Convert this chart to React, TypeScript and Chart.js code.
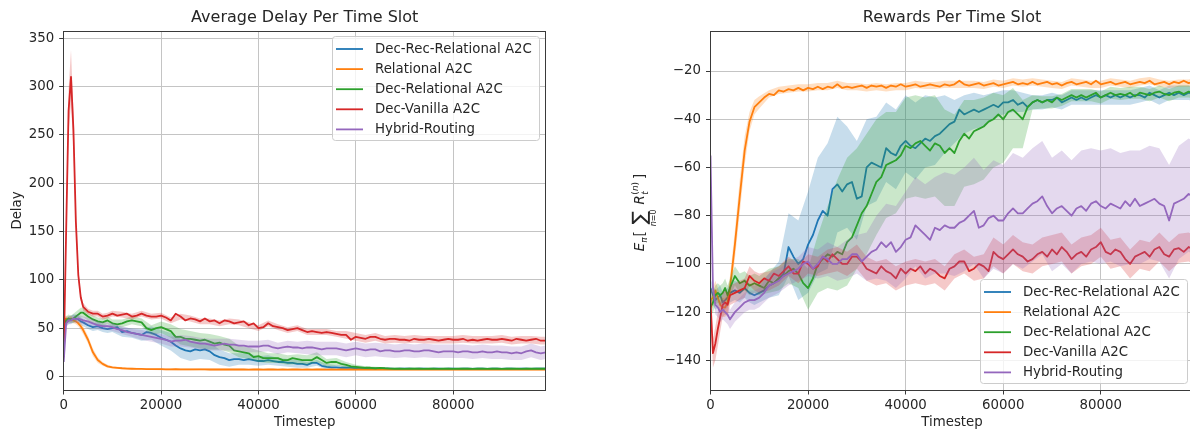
import React, { useEffect, useRef } from "react";
import { Chart, registerables } from "chart.js";

Chart.register(...registerables);

// ---------------- data ----------------
// timesteps of the mean curves
const LINE_TIMESTEPS = [
  0, 500, 1000, 1500, 2000, 2500, 3000, 3500, 4000,
  5000, 6000, 7000, 8000, 9000, 10000, 11000, 12000, 13000, 14000,
  15000, 16000, 17000, 18000, 19000, 20000, 21000, 22000, 23000, 24000,
  25000, 26000, 27000, 28000, 29000, 30000, 31000, 32000, 33000, 34000,
  35000, 36000, 37000, 38000, 39000, 40000, 41000, 42000, 43000, 44000,
  45000, 46000, 47000, 48000, 49000, 50000, 51000, 52000, 53000, 54000,
  55000, 56000, 57000, 58000, 59000, 60000, 61000, 62000, 63000, 64000,
  65000, 66000, 67000, 68000, 69000, 70000, 71000, 72000, 73000, 74000,
  75000, 76000, 77000, 78000, 79000, 80000, 81000, 82000, 83000, 84000,
  85000, 86000, 87000, 88000, 89000, 90000, 91000, 92000, 93000, 94000,
  95000, 96000, 97000, 98000, 99000,
];
// timesteps of the shaded spread bands
const BAND_TIMESTEPS = [
  0, 500, 1000, 1500, 2000, 2500, 3000, 3500, 4000, 5000, 6000, 7000, 8000, 9000, 10000,
  12000, 14000, 16000, 18000, 20000, 22000, 24000, 26000, 28000, 30000, 32000, 34000, 36000, 38000, 40000,
  42000, 44000, 46000, 48000, 50000, 52000, 54000, 56000, 58000, 60000, 62000, 64000, 66000, 68000, 70000,
  72000, 74000, 76000, 78000, 80000, 82000, 84000, 86000, 88000, 90000, 92000, 94000, 96000, 98000, 99000,
];

const SERIES_LABELS = ["Dec-Rec-Relational A2C", "Relational A2C", "Dec-Relational A2C", "Dec-Vanilla A2C", "Hybrid-Routing"];
const SERIES_COLORS = ["#1f77b4", "#ff7f0e", "#2ca02c", "#d62728", "#9467bd"];

const X_TICKS = [0, 20000, 40000, 60000, 80000];
const DELAY_TICKS = [0, 50, 100, 150, 200, 250, 300, 350];
const REWARD_TICKS = [-140, -120, -100, -80, -60, -40, -20];

// ---- Average delay per time slot (left panel), means ----
const delayDecRec = [
  50, 56, 58, 59, 60, 60, 59, 57, 56,
  53, 51, 52, 50, 49, 50, 51, 46, 47, 45,
  44, 43, 46, 45, 43, 40, 38, 36, 32, 29,
  27, 26, 28, 27, 28, 26, 22, 20, 19, 17,
  18, 18, 17, 18, 17, 16, 16, 17, 16, 15,
  15, 14, 14, 13, 13, 12, 14, 14, 11, 10,
  9.5, 9.5, 9, 9, 8.8, 8.5, 8.6, 8.5, 8.3, 8.2,
  8, 8.1, 8, 7.9, 8, 8.1, 8, 7.9, 8, 8.1,
  7.9, 8, 8.1, 7.9, 8, 8.1, 7.9, 8, 8.1, 7.9,
  8, 8.1, 7.9, 8, 8.1, 7.9, 8, 8.1, 7.9, 8,
  8.1, 7.9, 8, 8.1, 8,
];
const delayRelational = [
  58, 60, 59, 60, 58, 57, 55, 52, 48,
  38, 25, 17, 13, 10.5, 9.5, 9, 8.5, 8.2, 8,
  7.9, 7.8, 7.7, 7.6, 7.5, 7.5, 7.4, 7.4, 7.5, 7.3,
  7.4, 7.3, 7.3, 7.4, 7.3, 7.2, 7.3, 7.2, 7.3, 7.2,
  7.2, 7.3, 7.2, 7.1, 7.2, 7.2, 7.1, 7.2, 7.3, 7.1,
  7.2, 7.1, 7.2, 7.3, 7.1, 7.2, 7.1, 7.2, 7.3, 7.1,
  7.2, 7.1, 7.2, 7.1, 7.2, 7.1, 7.2, 7.1, 7.2, 7.1,
  7.2, 7.1, 7.2, 7.3, 7.1, 7.2, 7.1, 7.2, 7.1, 7.2,
  7.1, 7.2, 7.3, 7.1, 7.2, 7.1, 7.2, 7.1, 7.2, 7.1,
  7.2, 7.1, 7.2, 7.1, 7.3, 7.1, 7.2, 7.1, 7.2, 7.1,
  7.2, 7.1, 7.2, 7.1, 7.2,
];
const delayDecRelational = [
  52, 58, 60, 59, 60, 62, 64, 66, 66,
  62, 59, 57, 56, 58, 55, 54, 55, 57, 58,
  57, 56, 50, 48, 50, 51, 49, 47, 41, 41,
  39, 39, 38, 37, 38, 36, 34, 35, 33, 32,
  27, 26, 25, 24, 20, 21, 19, 19, 19, 19,
  17, 17, 19, 18, 17, 17, 17, 20, 17, 14,
  15, 15, 13, 12, 10.5, 10, 9.5, 9, 9, 8.5,
  9, 8.5, 8.2, 8, 8.1, 7.9, 8, 8.2, 8, 7.9,
  8.1, 8, 7.9, 8.1, 8, 7.9, 8.1, 8, 8.2, 7.9,
  8, 8.1, 7.9, 8, 8.2, 7.9, 8, 8.1, 8, 7.9,
  8.1, 8, 8.2, 8, 8,
];
const delayDecVanilla = [
  20, 150, 275, 310, 255, 160, 105, 82, 72,
  67, 65, 65, 62, 63, 65, 63, 64, 65, 62,
  63, 65, 63, 62, 62, 63, 61, 58, 65, 62,
  58, 60, 59, 57, 60, 57, 58, 55, 58, 57,
  55, 56, 57, 53, 55, 50, 51, 55, 52, 51,
  50, 48, 49, 50, 48, 46, 47, 46, 45, 46,
  45, 44, 43, 43, 38, 41, 40, 39, 41, 41,
  39, 38, 39, 39, 38, 38, 37, 39, 38, 38,
  39, 38, 37, 38, 39, 38, 38, 39, 37, 38,
  37, 38, 39, 38, 38, 39, 38, 37, 39, 38,
  37, 38, 39, 37, 37,
];
const delayHybrid = [
  15, 55, 58, 58, 60, 59, 60, 59, 58,
  57, 55, 53, 52, 52, 51, 49, 48, 46, 45,
  44, 43, 42, 41, 40, 39, 38, 36, 37, 37,
  38, 36, 35, 34, 34, 33, 32, 33, 34, 33,
  33, 32, 32, 31, 31, 31, 32, 32, 30, 29,
  30, 31, 30, 30, 29, 30, 30, 29, 28, 29,
  29, 29, 28, 27, 28, 29, 28, 27, 28, 28,
  26, 27, 27, 26, 26, 27, 27, 26, 26, 27,
  27, 26, 25, 26, 26, 26, 25, 26, 26, 25,
  25, 26, 25, 25, 26, 25, 25, 24, 25, 24,
  26, 27, 25, 24, 25,
];

// ---- delay spreads (on BAND_TIMESTEPS) ----
const delayDecRecSpread = [
  4, 4, 4, 4, 4, 4, 4, 4, 4, 4, 4, 4, 4, 4, 4,
  5, 5, 6, 7, 8, 9, 10, 10, 9, 9, 8, 7, 6, 6, 5,
  5, 4, 4, 4, 3, 3, 3, 2, 2, 1.5, 1.5, 1, 1, 1, 1,
  1, 1, 1, 1, 1, 1, 1, 1, 1, 1, 1, 1, 1, 1, 1,
];
const delayRelationalSpread = [
  3, 3, 3, 3, 3, 3, 3, 4, 4, 4, 4, 3, 2, 1.5, 1.2,
  1, 1, 1, 1, 1, 1, 1, 1, 1, 1, 1, 1, 1, 1, 1,
  1, 1, 1, 1, 1, 1, 1, 1, 1, 1, 1, 1, 1, 1, 1,
  1, 1, 1, 1, 1, 1, 1, 1, 1, 1, 1, 1, 1, 1, 1,
];
const delayDecRelationalSpread = [
  4, 4, 4, 4, 5, 5, 5, 5, 5, 4, 4, 4, 4, 4, 4,
  4, 4, 4, 5, 6, 7, 8, 8, 8, 8, 7, 7, 6, 6, 6,
  5, 5, 5, 5, 5, 5, 4, 4, 3, 2, 1.5, 1.5, 1, 1, 1,
  1, 1, 1, 1, 1, 1, 1, 1, 1, 1, 1, 1, 1, 1, 1,
];
const delayDecVanillaSpread = [
  3, 10, 22, 28, 20, 10, 6, 4, 4, 3, 3, 3, 3, 3, 3,
  3, 3, 3, 3, 3, 3, 3, 3, 3, 3, 3, 3, 3, 3, 3,
  3, 3, 3, 3, 3, 3, 3, 3, 4, 4, 4, 4, 4, 4, 4,
  4, 4, 4, 4, 4, 4, 4, 4, 4, 4, 4, 4, 4, 4, 4,
];
const delayHybridSpread = [
  3, 4, 4, 4, 4, 4, 4, 4, 4, 4, 4, 4, 4, 4, 4,
  4, 4, 5, 5, 5, 5, 6, 6, 6, 6, 6, 6, 6, 6, 6,
  6, 6, 6, 6, 7, 7, 7, 7, 7, 7, 7, 7, 7, 7, 7,
  7, 7, 7, 7, 7, 7, 7, 7, 7, 7, 7, 7, 7, 7, 7,
];

// ---- Rewards per time slot (right panel), means ----
const rewardDecRec = [
  -110, -113, -115, -114, -113, -116, -115, -114, -112,
  -111, -112, -110, -112, -113, -112, -111, -109, -108, -106,
  -104, -93, -97, -100, -98, -92, -88, -82, -78, -80,
  -69, -67, -70, -67, -66, -73, -72, -60, -58, -59,
  -60, -52, -54, -55, -51, -49, -51, -52, -50, -48,
  -49, -47, -46, -44, -42, -41, -36, -38, -37, -36,
  -37, -36, -35, -34, -35, -33, -33, -32, -34, -33,
  -35, -33, -32, -33, -32, -32, -31, -33, -32, -31,
  -32, -31, -32, -31, -30, -31, -30, -31, -30, -31,
  -30, -31, -30, -30, -31, -29, -30, -31, -30, -29,
  -30, -29, -30, -29, -29.5,
];
const rewardRelational = [
  -115, -114, -111, -114, -117, -118, -118, -116, -110,
  -92, -72, -53, -41, -35, -33, -31, -29.5, -30, -28,
  -28.5, -27.5, -28, -27, -28, -27, -27.5, -26.5, -27.5, -26.5,
  -27, -25.5, -27, -26.5, -27, -26.5, -26, -27, -26, -26.5,
  -26, -27, -26, -26.5, -25.5, -26.5, -26, -25.5, -26.5, -26,
  -25.5, -26, -26.5, -25.5, -26, -25.5, -24, -25.5, -26, -25.5,
  -25, -26, -25.5, -25, -26, -25.5, -25, -24.5, -25.5, -25,
  -25.5, -24.5, -25.5, -25, -24.5, -25.5, -25, -26, -25, -24.5,
  -25.5, -25, -24.5, -25.5, -24, -25.5, -25, -24.5, -25.5, -25,
  -24.5, -25.5, -25, -24.5, -25, -24, -25.5, -25, -24.5, -25.5,
  -24.5, -25, -24, -25, -24.5,
];
const rewardDecRelational = [
  -118, -116, -113, -112, -113, -112, -110, -113, -110,
  -105, -108, -107, -109, -108, -109, -110, -107, -108, -106,
  -105, -103, -102, -104, -108, -110, -106, -100, -98, -96,
  -97, -95, -96, -91, -89, -84, -79, -76, -71, -66,
  -64, -59, -58, -57, -55, -51, -52, -50, -49, -51,
  -53, -50, -51, -54, -52, -54, -49, -46, -48, -45,
  -44, -43, -41, -40, -38, -40, -37, -36, -38, -40,
  -35, -33, -32, -33, -32, -33, -31, -32, -31, -30,
  -31, -30, -31, -30, -29, -31, -30, -29, -30, -29.5,
  -30, -29, -30.5, -29, -29.5, -30, -29, -28.5, -29.5, -30,
  -29, -28.5, -29.5, -28.5, -29,
];
const rewardDecVanilla = [
  -115, -137, -133, -127, -122, -117, -116, -117, -113,
  -112, -111, -110, -105, -107, -108, -106, -107, -104, -105,
  -103, -101, -104, -104, -99, -100, -102, -101, -97, -99,
  -96, -98, -100, -100, -97, -97, -99, -102, -103, -104,
  -101, -103, -104, -106, -102, -104, -102, -103, -101, -104,
  -102, -103, -105, -106, -102, -101, -99, -99, -103, -102,
  -100, -101, -103, -95, -97, -98, -96, -94, -96, -97,
  -99, -98, -96, -95, -97, -94, -96, -93, -95, -98,
  -96, -95, -97, -94, -93, -91, -95, -96, -94, -95,
  -98, -100, -97, -96, -95, -97, -94, -93, -96, -97,
  -94, -93.5, -95, -93, -94,
];
const rewardHybrid = [
  -55, -110, -117, -118, -120, -119, -120, -121, -123,
  -120, -118, -116, -115, -115, -114, -112, -109, -108, -107,
  -105, -104, -103, -102, -100, -99, -102, -100, -97, -98,
  -100, -100, -98, -98, -96, -96, -99, -97, -95, -94,
  -91, -93, -91, -95, -93, -90, -89, -84, -86, -88,
  -90, -85, -86, -84, -85, -85, -83, -82, -80, -78,
  -85, -84, -81, -80, -82, -82, -79, -77, -79, -79,
  -77, -75, -74, -72, -76, -79, -77, -76, -78, -80,
  -77, -76, -78, -75, -74, -76, -77, -75, -76, -77,
  -74, -76, -73, -76, -75, -74, -73, -75, -76, -82,
  -75, -74, -73, -71, -72,
];

// ---- reward spreads (on BAND_TIMESTEPS) ----
const rewardDecRecUp = [
  4, 4, 4, 4, 4, 4, 4, 4, 4, 4, 4, 4, 4, 4, 4,
  5, 7, 14, 18, 22, 26, 30, 28, 24, 24, 20, 20, 19, 19, 19,
  19, 18, 16, 14, 9, 8, 7, 6, 5, 5, 4, 4, 3, 3, 3,
  3, 3, 3, 3, 3, 3, 3, 3, 3, 3, 3, 3, 3, 3, 3,
];
const rewardDecRecDown = [
  4, 4, 4, 4, 4, 4, 4, 4, 4, 4, 4, 4, 4, 4, 4,
  5, 7, 12, 15, 20, 22, 22, 20, 18, 17, 16, 15, 14, 14, 13,
  13, 12, 12, 10, 9, 8, 8, 7, 6, 5, 5, 4, 3, 3, 3,
  3, 3, 3, 3, 3, 3, 3, 3, 3, 3, 3, 3, 3, 3, 3,
];
const rewardRelationalSpread = [
  4, 4, 4, 4, 4, 4, 4, 4, 5, 6, 7, 6, 4, 3, 2.5,
  1.5, 1.5, 1.5, 1.5, 1.5, 1.5, 1.5, 1.5, 1.5, 1.5, 1.5, 1.5, 1.5, 1.5, 1.5,
  1.5, 1.5, 1.5, 1.5, 1.5, 1.5, 1.5, 1.5, 1.5, 1.5, 1.5, 1.5, 1.5, 1.5, 1.5,
  1.5, 1.5, 1.5, 1.5, 1.5, 1.5, 1.5, 1.5, 1.5, 1.5, 1.5, 1.5, 1.5, 1.5, 1.5,
];
const rewardDecRelationalUp = [
  4, 4, 4, 4, 4, 4, 4, 4, 4, 4, 4, 4, 4, 4, 4,
  5, 5, 5, 6, 8, 12, 20, 30, 35, 32, 30, 26, 22, 20, 20,
  20, 20, 20, 18, 16, 14, 13, 12, 11, 10, 9, 8, 3, 2.5, 2.5,
  2.5, 2.5, 2.5, 2.5, 2.5, 2.5, 2.5, 2.5, 2.5, 2.5, 2.5, 2.5, 2.5, 2.5, 2.5,
];
const rewardDecRelationalDown = [
  4, 4, 4, 4, 4, 4, 4, 4, 4, 4, 4, 4, 4, 4, 4,
  5, 5, 5, 6, 9, 12, 14, 16, 18, 18, 20, 22, 22, 22, 22,
  22, 22, 22, 22, 22, 22, 22, 22, 20, 18, 16, 12, 3, 2.5, 2.5,
  2.5, 2.5, 2.5, 2.5, 2.5, 2.5, 2.5, 2.5, 2.5, 2.5, 2.5, 2.5, 2.5, 2.5, 2.5,
];
const rewardDecVanillaSpread = [
  5, 6, 7, 7, 6, 5, 5, 5, 4, 4, 4, 4, 4, 4, 4,
  4, 4, 4, 4, 4, 4, 5, 5, 5, 5, 5, 5, 5, 5, 5,
  5, 5, 5, 5, 5, 5, 5, 5, 6, 6, 6, 6, 6, 6, 6,
  6, 6, 6, 6, 6, 6, 6, 6, 6, 6, 6, 6, 6, 6, 6,
];
const rewardHybridUp = [
  4, 4, 4, 4, 4, 4, 4, 4, 4, 4, 4, 4, 4, 4, 4,
  5, 5, 5, 5, 6, 6, 7, 7, 8, 8, 10, 14, 18, 19, 20,
  20, 21, 21, 22, 22, 22, 22, 23, 23, 23, 23, 23, 23, 23, 23,
  23, 23, 23, 23, 23, 23, 23, 23, 23, 23, 23, 23, 23, 23, 23,
];
const rewardHybridDown = [
  4, 4, 4, 4, 4, 4, 4, 4, 4, 4, 4, 4, 4, 4, 4,
  5, 5, 5, 5, 6, 6, 7, 7, 8, 8, 10, 12, 14, 15, 16,
  17, 18, 19, 20, 20, 21, 22, 22, 22, 22, 23, 23, 24, 24, 24,
  24, 24, 24, 24, 24, 24, 24, 24, 24, 24, 24, 24, 24, 24, 24,
];

const X_MIN = 0;
const X_MAX = 99000;
const DELAY_MIN = -14;
const DELAY_MAX = 357.5;
const REWARD_MIN = -152.3;
const REWARD_MAX = -3.6;

// ---------------- styling ----------------
const FONT = "'DejaVu Sans', 'Liberation Sans', sans-serif";
const TEXT = "#262626";
const GRID = "#c4c4c4";
const AXIS = "#3a3a3a";
const CANVAS_H = 433;
const FS = 13.33;

type Panel = {
  key: string;
  title: string;
  canvasLeft: number;
  canvasWidth: number;
  plotLeft: number;
  plotRight: number;
  plotTop: number;
  plotBottom: number;
  yMin: number;
  yMax: number;
  yTicks: number[];
  yTitle: string | null;
  means: number[][];
  ups: number[][];
  downs: number[][];
  legendLeft: number;
  legendTop: number;
};

const PANELS: Panel[] = [
  {
    key: "delay",
    title: "Average Delay Per Time Slot",
    canvasLeft: 0,
    canvasWidth: 600,
    plotLeft: 63.7,
    plotRight: 545.7,
    plotTop: 31,
    plotBottom: 390,
    yMin: DELAY_MIN,
    yMax: DELAY_MAX,
    yTicks: DELAY_TICKS,
    yTitle: "Delay",
    means: [delayDecRec, delayRelational, delayDecRelational, delayDecVanilla, delayHybrid],
    ups: [delayDecRecSpread, delayRelationalSpread, delayDecRelationalSpread, delayDecVanillaSpread, delayHybridSpread],
    downs: [delayDecRecSpread, delayRelationalSpread, delayDecRelationalSpread, delayDecVanillaSpread, delayHybridSpread],
    legendLeft: 332,
    legendTop: 36,
  },
  {
    key: "reward",
    title: "Rewards Per Time Slot",
    canvasLeft: 600,
    canvasWidth: 600,
    plotLeft: 110.5,
    plotRight: 593.5,
    plotTop: 31.5,
    plotBottom: 390,
    yMin: REWARD_MIN,
    yMax: REWARD_MAX,
    yTicks: REWARD_TICKS,
    yTitle: null,
    means: [rewardDecRec, rewardRelational, rewardDecRelational, rewardDecVanilla, rewardHybrid],
    ups: [rewardDecRecUp, rewardRelationalSpread, rewardDecRelationalUp, rewardDecVanillaSpread, rewardHybridUp],
    downs: [rewardDecRecDown, rewardRelationalSpread, rewardDecRelationalDown, rewardDecVanillaSpread, rewardHybridDown],
    legendLeft: 380,
    legendTop: 279,
  },
];

const LEGEND_W = 207;
const LEGEND_H = 104;

function rgba(hex: string, a: number) {
  const n = parseInt(hex.slice(1), 16);
  return `rgba(${(n >> 16) & 255},${(n >> 8) & 255},${n & 255},${a})`;
}

function buildDatasets(p: Panel) {
  const ds: any[] = [];
  p.means.forEach((mean, i) => {
    const up = p.ups[i];
    const down = p.downs[i];
    const color = SERIES_COLORS[i];
    // band centre = the mean value at the same timestep (exact lookup)
    const centre = BAND_TIMESTEPS.map((t) => mean[LINE_TIMESTEPS.indexOf(t)]);
    ds.push({
      label: SERIES_LABELS[i] + " upper",
      data: BAND_TIMESTEPS.map((t, k) => ({ x: t, y: centre[k] + up[k] })),
      borderColor: "rgba(0,0,0,0)",
      borderWidth: 0,
      pointRadius: 0,
      fill: false,
      order: 100 - 10 * i,
    });
    ds.push({
      label: SERIES_LABELS[i] + " lower",
      data: BAND_TIMESTEPS.map((t, k) => ({ x: t, y: centre[k] - down[k] })),
      borderColor: "rgba(0,0,0,0)",
      backgroundColor: rgba(color, 0.25),
      borderWidth: 0,
      pointRadius: 0,
      fill: "-1",
      order: 100 - 10 * i,
    });
    ds.push({
      label: SERIES_LABELS[i],
      data: LINE_TIMESTEPS.map((t, k) => ({ x: t, y: mean[k] })),
      borderColor: color,
      borderWidth: 1.8,
      pointRadius: 0,
      fill: false,
      tension: 0,
      borderJoinStyle: "round",
      order: 95 - 10 * i,
    });
  });
  return ds;
}

const align = (v: number) => Math.round(v - 0.5) + 0.5;

function roundRectPath(ctx: CanvasRenderingContext2D, x: number, y: number, w: number, h: number, r: number) {
  ctx.beginPath();
  ctx.moveTo(x + r, y);
  ctx.lineTo(x + w - r, y);
  ctx.arcTo(x + w, y, x + w, y + r, r);
  ctx.lineTo(x + w, y + h - r);
  ctx.arcTo(x + w, y + h, x + w - r, y + h, r);
  ctx.lineTo(x + r, y + h);
  ctx.arcTo(x, y + h, x, y + h - r, r);
  ctx.lineTo(x, y + r);
  ctx.arcTo(x, y, x + r, y, r);
  ctx.closePath();
}

function drawRewardLabel(ctx: CanvasRenderingContext2D, cx: number, cy: number) {
  ctx.save();
  ctx.translate(cx, cy);
  ctx.rotate(-Math.PI / 2);
  ctx.fillStyle = TEXT;
  ctx.textAlign = "left";
  ctx.textBaseline = "alphabetic";
  const mainF = `${FS}px ${FONT}`;
  const mainI = `italic ${FS}px ${FONT}`;
  const smallF = `9px ${FONT}`;
  const smallI = `italic 9px ${FONT}`;
  const bigF = `20px ${FONT}`;
  const tinyF = `8px ${FONT}`;
  const tinyI = `italic 8px ${FONT}`;
  const m = (f: string, s: string) => {
    ctx.font = f;
    return ctx.measureText(s).width;
  };
  const wE = m(mainI, "E");
  const wPi = m(smallI, "\u03c0");
  const wL = m(mainF, "[");
  const wSum = m(bigF, "\u2211");
  const wn = m(tinyI, "n");
  const wEq = m(tinyF, "=0");
  const wN = wn + wEq;
  const wR = m(mainI, "R");
  const wPo = m(smallF, "(");
  const wPn = m(smallI, "n");
  const wPc = m(smallF, ")");
  const wSup = wPo + wPn + wPc;
  const wSub = m(smallI, "t");
  const wRb = m(mainF, "]");
  const sumBlock = Math.max(wSum, wN);
  const total = wE + wPi + 1 + wL + 5 + sumBlock + 5 + wR + Math.max(wSup, wSub) + 3 + wRb;
  let x = -total / 2;
  const put = (f: string, s: string, px: number, py: number) => {
    ctx.font = f;
    ctx.fillText(s, px, py);
  };
  put(mainI, "E", x, 0);
  x += wE;
  put(smallI, "\u03c0", x, 3);
  x += wPi + 1;
  put(mainF, "[", x, 0);
  x += wL + 5;
  put(bigF, "\u2211", x + (sumBlock - wSum) / 2, 2);
  const nx = x + (sumBlock - wN) / 2;
  put(tinyI, "n", nx, 12);
  put(tinyF, "=0", nx + wn, 12);
  x += sumBlock + 5;
  put(mainI, "R", x, 0);
  x += wR + 0.5;
  put(smallF, "(", x, -6);
  put(smallI, "n", x + wPo, -6);
  put(smallF, ")", x + wPo + wPn, -6);
  put(smallI, "t", x, 3.5);
  x += Math.max(wSup, wSub) + 3;
  put(mainF, "]", x, 0);
  ctx.restore();
}

function decorPlugin(p: Panel) {
  return {
    id: "decor_" + p.key,
    afterDraw(chart: any) {
      const ctx: CanvasRenderingContext2D = chart.ctx;
      const a = chart.chartArea;
      ctx.save();
      ctx.strokeStyle = AXIS;
      ctx.lineWidth = 1;
      const l = align(a.left), r = align(a.right), t = align(a.top), b = align(a.bottom);
      ctx.strokeRect(l, t, r - l, b - t);
      ctx.fillStyle = TEXT;
      ctx.font = `16px ${FONT}`;
      ctx.textAlign = "center";
      ctx.textBaseline = "middle";
      ctx.fillText(p.title, (a.left + a.right) / 2, 17.5);
      roundRectPath(ctx, p.legendLeft + 0.5, p.legendTop + 0.5, LEGEND_W, LEGEND_H, 3);
      ctx.fillStyle = "rgba(255,255,255,0.8)";
      ctx.fill();
      ctx.strokeStyle = "#cccccc";
      ctx.lineWidth = 1;
      ctx.stroke();
      ctx.font = `${FS}px ${FONT}`;
      ctx.textAlign = "left";
      ctx.textBaseline = "middle";
      SERIES_LABELS.forEach((label, i) => {
        const y = p.legendTop + 13 + i * 20.1;
        ctx.strokeStyle = SERIES_COLORS[i];
        ctx.lineWidth = 1.8;
        ctx.beginPath();
        ctx.moveTo(p.legendLeft + 4, y);
        ctx.lineTo(p.legendLeft + 31, y);
        ctx.stroke();
        ctx.fillStyle = TEXT;
        ctx.fillText(label, p.legendLeft + 43, y + 0.5);
      });
      ctx.restore();
      if (!p.yTitle) {
        drawRewardLabel(ctx, 44, (a.top + a.bottom) / 2 + 2);
      }
    },
  };
}

const fmtTick = (v: any) => {
  const n = Number(v);
  return n < 0 ? "\u2212" + String(Math.abs(n)) : String(n);
};

function buildConfig(p: Panel): any {
  return {
    type: "line",
    data: { datasets: buildDatasets(p) },
    options: {
      responsive: false,
      animation: false,
      devicePixelRatio: 1,
      events: [],
      layout: { padding: { left: 0, top: p.plotTop, right: p.canvasWidth - p.plotRight, bottom: 0 } },
      plugins: {
        legend: { display: false },
        title: { display: false },
        tooltip: { enabled: false },
        filler: { propagate: false },
      },
      elements: { line: { tension: 0 } },
      scales: {
        x: {
          type: "linear",
          min: X_MIN,
          max: X_MAX,
          afterBuildTicks: (s: any) => {
            s.ticks = X_TICKS.map((v) => ({ value: v }));
          },
          afterFit: (s: any) => {
            s.height = CANVAS_H - p.plotBottom;
          },
          ticks: {
            autoSkip: false,
            maxRotation: 0,
            padding: 3.5,
            color: TEXT,
            font: { size: FS, family: FONT },
            callback: fmtTick,
          },
          grid: { color: GRID, lineWidth: 1, drawTicks: true, tickLength: 4.5, tickColor: AXIS, tickWidth: 1 },
          border: { display: false },
          title: {
            display: true,
            text: "Timestep",
            color: TEXT,
            font: { size: FS, family: FONT },
            padding: { top: 0, bottom: 2.5 },
          },
        },
        y: {
          type: "linear",
          min: p.yMin,
          max: p.yMax,
          afterBuildTicks: (s: any) => {
            s.ticks = p.yTicks.map((v) => ({ value: v }));
          },
          afterFit: (s: any) => {
            s.width = p.plotLeft;
          },
          ticks: {
            autoSkip: false,
            padding: 5,
            color: TEXT,
            font: { size: FS, family: FONT },
            callback: fmtTick,
          },
          grid: { color: GRID, lineWidth: 1, drawTicks: true, tickLength: 4.5, tickColor: AXIS, tickWidth: 1 },
          border: { display: false },
          title: {
            display: !!p.yTitle,
            text: p.yTitle || "",
            color: TEXT,
            font: { size: FS, family: FONT },
            padding: { top: 9.5, bottom: 0 },
          },
        },
      },
    },
    plugins: [decorPlugin(p)],
  };
}

function ChartPanel({ panel }: { panel: Panel }) {
  const ref = useRef<HTMLCanvasElement | null>(null);
  useEffect(() => {
    if (!ref.current) return;
    const chart = new Chart(ref.current, buildConfig(panel));
    return () => chart.destroy();
  }, [panel]);
  return (
    <canvas
      ref={ref}
      width={panel.canvasWidth}
      height={CANVAS_H}
      style={{
        position: "absolute",
        left: panel.canvasLeft,
        top: 0,
        width: panel.canvasWidth,
        height: CANVAS_H,
        display: "block",
      }}
    />
  );
}

export default function App() {
  return (
    <div
      style={{
        position: "absolute",
        left: 0,
        top: 0,
        width: 1190,
        height: CANVAS_H,
        overflow: "hidden",
        background: "#ffffff",
      }}
    >
      {PANELS.map((p) => (
        <ChartPanel key={p.key} panel={p} />
      ))}
    </div>
  );
}
